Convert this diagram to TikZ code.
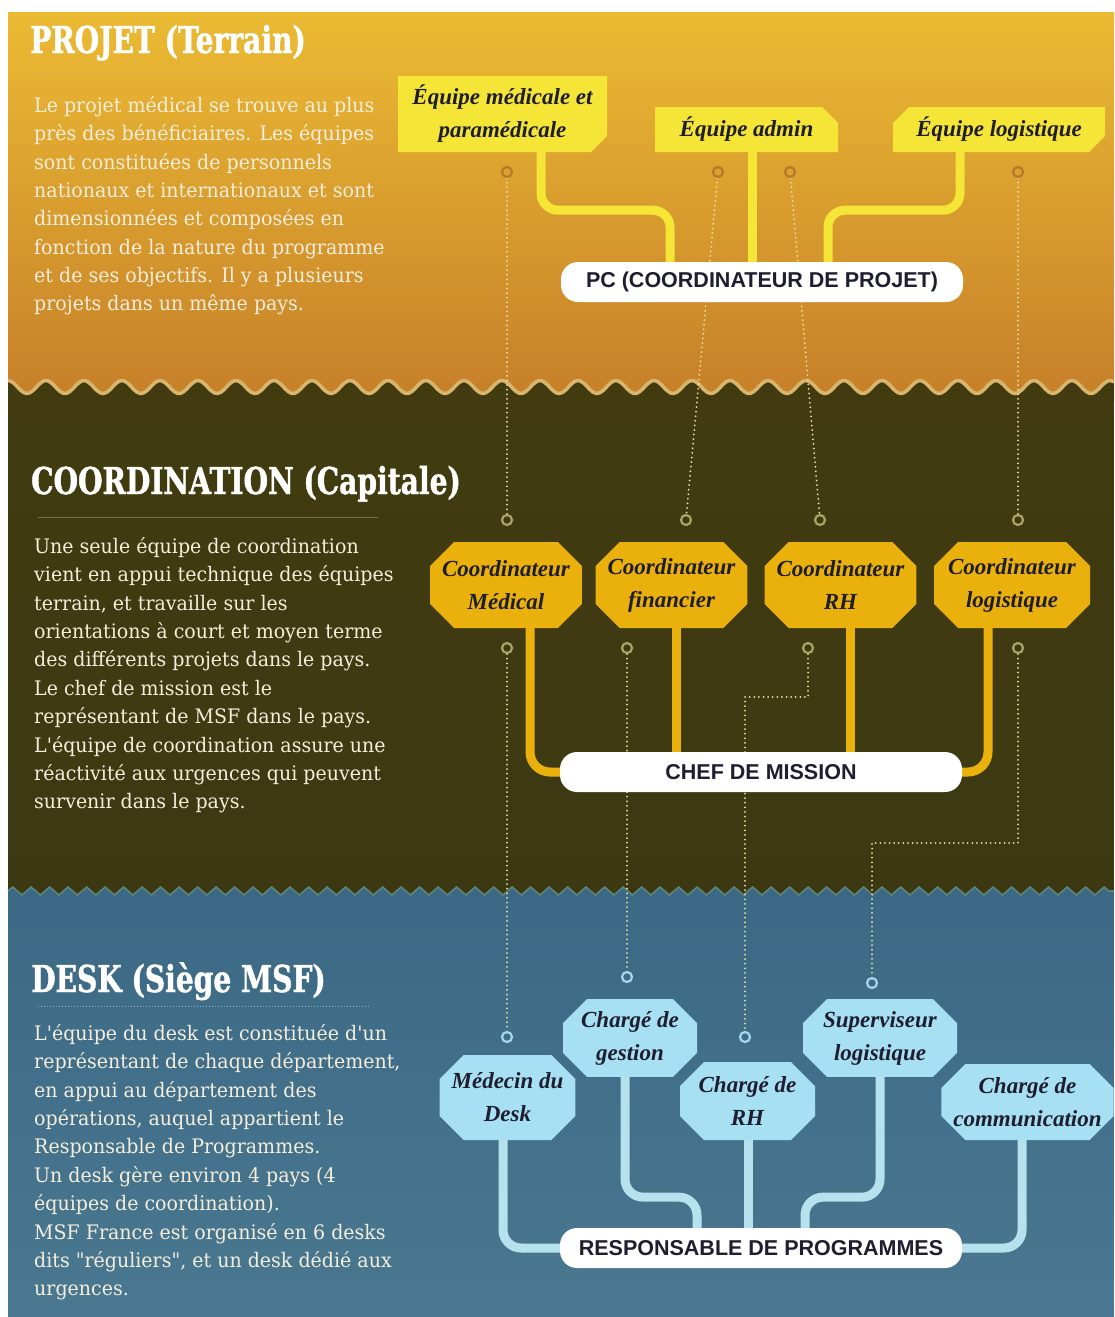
\documentclass[tikz,border=0pt]{standalone}
\usepackage{fontspec}
\usetikzlibrary{shapes.misc,decorations.pathmorphing}
\newfontfamily\hdfont[FakeStretch=0.76,FakeBold=1.2]{DejaVu Serif}
\newfontfamily\bdfont[FakeStretch=0.95]{DejaVu Serif}
\newfontfamily\lbfont{Liberation Serif}
\newfontfamily\bxfont{Liberation Sans}
\definecolor{topA}{HTML}{EBBB33}
\definecolor{topM}{HTML}{E3A42B}
\definecolor{topB}{HTML}{C67F29}
\definecolor{olA}{HTML}{423B10}
\definecolor{olB}{HTML}{3C3912}
\definecolor{blA}{HTML}{3B6884}
\definecolor{blB}{HTML}{4A7890}
\definecolor{wavec}{HTML}{D9B66E}
\definecolor{zzc}{HTML}{5E8479}
\definecolor{ycol}{HTML}{F4E536}
\definecolor{gcol}{HTML}{EAB10C}
\definecolor{bcol}{HTML}{A6E0F2}
\definecolor{bconc}{HTML}{B6E2EE}
\definecolor{boxtext}{HTML}{1F1D30}
\definecolor{bodytext}{HTML}{F5EEDC}
\definecolor{dotc}{HTML}{EFE2A6}
\definecolor{ringT}{HTML}{B5782C}
\definecolor{ringM}{HTML}{A9A565}
\definecolor{ringD}{HTML}{A6D7EA}
\pgfdeclarelayer{back}
\pgfdeclarelayer{mid}
\pgfsetlayers{back,mid,main}
\begin{document}
\begin{tikzpicture}[x=1pt,y=-1pt,
  heading/.style={anchor=base west, text=white, inner sep=0pt, font=\hdfont\bfseries\fontsize{37}{40}\selectfont},
  body/.style={anchor=north west, text=bodytext, inner sep=0pt, align=left, font=\bdfont\fontsize{20}{28.4}\selectfont},
  lab/.style={inner sep=0pt, align=center, text=boxtext, font=\lbfont\bfseries\itshape\fontsize{23}{33}\selectfont},
  tagbox/.style={lab, chamfered rectangle, chamfered rectangle xsep=8pt, chamfered rectangle ysep=8pt, fill=ycol},
  coordbox/.style={lab, chamfered rectangle, chamfered rectangle xsep=12pt, chamfered rectangle ysep=12pt, fill=gcol, minimum height=86pt},
  deskbox/.style={lab, chamfered rectangle, chamfered rectangle xsep=12pt, chamfered rectangle ysep=12pt, fill=bcol},
  pill/.style={fill=white, rounded corners=17pt, minimum width=402pt, minimum height=40pt, inner sep=0pt, text=boxtext, font=\bxfont\bfseries\fontsize{21.5}{23}\selectfont},
  ring/.style={circle, draw=#1, line width=2.2pt, minimum size=10pt, inner sep=0pt},
  dotline/.style={draw=dotc, line width=2pt, line cap=round, dash pattern=on 0pt off 4.6pt},
  ycon/.style={draw=ycol, line width=9pt, rounded corners=17pt},
  gcon/.style={draw=gcol, line width=9pt, rounded corners=20pt},
  bcon/.style={draw=bconc, line width=9pt, rounded corners=18pt}
]
\useasboundingbox (0,0) rectangle (1114,1317);
\begin{pgfonlayer}{back}
\fill[white] (0,0) rectangle (1114,1317);
\shade[top color=topA, middle color=topM, bottom color=topB] (8,12) rectangle (1114,400);
\shade[top color=olA, bottom color=olB] plot[domain=8:1114, samples=360] (\x,{387-6.5*cos(9.47368*(\x-8))}) -- (1114,900) -- (8,900) -- cycle;
\draw[wavec, line width=3.5pt] plot[domain=8:1114, samples=360] (\x,{387-6.5*cos(9.47368*(\x-8))});
\shade[top color=blA, bottom color=blB] (8,1317) -- (8,891) decorate[decoration={zigzag, segment length=18.5pt, amplitude=4pt}]{-- (1114,891)} -- (1114,1317) -- cycle;
\draw[zzc, line width=1.6pt] (8,891) decorate[decoration={zigzag, segment length=18.5pt, amplitude=4pt}]{-- (1114,891)};
\end{pgfonlayer}

% headings and rules
\node[heading] (h1) at (30,53) {PROJET (Terrain)};
\node[heading] (h2) at (31,494) {COORDINATION (Capitale)};
\node[heading] (h3) at (31,992) {DESK (Siège MSF)};
\draw[draw=wavec!70!topA, line width=0.8pt] (38,75) -- (380,75);
\draw[draw=olA!75!white, line width=0.8pt] (38,517) -- (378,517);
\draw[draw=blA!50!white, line width=1pt, dash pattern=on 1pt off 2pt] (38,1006) -- (370,1006);

% body texts
\node[body] (t1) at (34,96) {Le projet médical se trouve au plus\\près des bénéficiaires. Les équipes\\sont constituées de personnels\\nationaux et internationaux et sont\\dimensionnées et composées en\\fonction de la nature du programme\\et de ses objectifs. Il y a plusieurs\\projets dans un même pays.};
\node[body] (t2) at (34,537) {Une seule équipe de coordination\\vient en appui technique des équipes\\terrain, et travaille sur les\\orientations à court et moyen terme\\des différents projets dans le pays.\\Le chef de mission est le\\représentant de MSF dans le pays.\\L'équipe de coordination assure une\\réactivité aux urgences qui peuvent\\survenir dans le pays.};
\node[body] (t3) at (34,1024) {L'équipe du desk est constituée d'un\\représentant de chaque département,\\en appui au département des\\opérations, auquel appartient le\\Responsable de Programmes.\\Un desk gère environ 4 pays (4\\équipes de coordination).\\MSF France est organisé en 6 desks\\dits "réguliers", et un desk dédié aux\\urgences.};

% rings
\node[ring=ringT] (ta) at (507,172) {};
\node[ring=ringT] (tb) at (718,172) {};
\node[ring=ringT] (tc) at (790,172) {};
\node[ring=ringT] (td) at (1018,172) {};
\node[ring=ringM] (ma) at (507,520) {};
\node[ring=ringM] (mb) at (686,520) {};
\node[ring=ringM] (mc) at (820,520) {};
\node[ring=ringM] (md) at (1018,520) {};
\node[ring=ringM] (na) at (507,648) {};
\node[ring=ringM] (nb) at (627,648) {};
\node[ring=ringM] (nc) at (808,648) {};
\node[ring=ringM] (nd) at (1018,648) {};
\node[ring=ringD] (da) at (507,1037) {};
\node[ring=ringD] (db) at (627,977) {};
\node[ring=ringD] (dc) at (745,1037) {};
\node[ring=ringD] (dd) at (872,983) {};

% dotted links
\begin{pgfonlayer}{mid}
\draw[dotline] (ta) -- (ma);
\draw[dotline] (tb) -- (mb);
\draw[dotline] (tc) -- (mc);
\draw[dotline] (td) -- (md);
\draw[dotline] (na) -- (da);
\draw[dotline] (nb) -- (db);
\draw[dotline] (nc) -- (808,697) -- (745,697) -- (dc);
\draw[dotline] (nd) -- (1018,843) -- (872,843) -- (dd);
\end{pgfonlayer}

% nodes: projet
\node[tagbox, chamfered rectangle corners={south east}, minimum width=209pt, minimum height=76pt] (med) at (502.5,114) {Équipe médicale et\\paramédicale};
\node[tagbox, chamfered rectangle corners={north east}, minimum width=183pt, minimum height=45pt] (adm) at (746.5,129.5) {Équipe admin};
\node[tagbox, chamfered rectangle corners={north west,south east}, minimum width=212pt, minimum height=45pt] (logi) at (999,129.5) {Équipe logistique};
\node[pill] (pc) at (762,282) {PC (COORDINATEUR DE PROJET)};

% nodes: coordination
\node[coordbox, minimum width=148pt] (cmed) at (506,585) {Coordinateur\\Médical};
\node[coordbox, minimum width=147pt] (cfin) at (671.5,585) {Coordinateur\\financier};
\node[coordbox, minimum width=149pt] (crh) at (840.5,585) {Coordinateur\\RH};
\node[coordbox, minimum width=156pt] (clog) at (1012,585) {Coordinateur\\logistique};
\node[pill] (chef) at (761,772) {CHEF DE MISSION};

% nodes: desk
\node[deskbox, minimum width=135pt, minimum height=85pt] (dmed) at (507.5,1097.5) {Médecin du\\Desk};
\node[deskbox, minimum width=134pt, minimum height=76pt] (dges) at (630,1038) {Chargé de\\gestion};
\node[deskbox, minimum width=135pt, minimum height=78pt] (drh) at (747.5,1101) {Chargé de\\RH};
\node[deskbox, minimum width=154pt, minimum height=76pt] (dsup) at (880,1038) {Superviseur\\logistique};
\node[deskbox, minimum width=165pt, minimum height=76pt] (dcom) at (1027.5,1102) {Chargé de\\communication};
\node[pill] (resp) at (761,1248) {RESPONSABLE DE PROGRAMMES};

% connectors
\begin{pgfonlayer}{mid}
\draw[ycon] ([xshift=38.5pt]med.south) -- ++(0,58) -- ++(129,0) -- ([xshift=-92pt]pc.north);
\draw[ycon] ([xshift=5.5pt]adm.south) -- ([xshift=-10pt]pc.north);
\draw[ycon] ([xshift=-39pt]logi.south) -- ++(0,58) -- ++(-132,0) -- ([xshift=66pt]pc.north);

\draw[gcon] ([xshift=24pt]cmed.south) |- (chef.west);
\draw[gcon] ([xshift=4.5pt]cfin.south) -- ([xshift=-85pt]chef.north);
\draw[gcon] ([xshift=9.5pt]crh.south) -- ([xshift=89pt]chef.north);
\draw[gcon] ([xshift=-24pt]clog.south) |- (chef.east);

\draw[bcon] ([xshift=-4.5pt]dmed.south) |- (resp.west);
\draw[bcon] ([xshift=-5pt]dges.south) -- ++(0,120) -- ++(72,0) -- ([xshift=-64pt]resp.north);
\draw[bcon] ([xshift=0.5pt]drh.south) -- ([xshift=-13pt]resp.north);
\draw[bcon] (dsup.south) -- ++(0,120) -- ++(-75,0) -- ([xshift=44pt]resp.north);
\draw[bcon] ([xshift=-5.5pt]dcom.south) |- (resp.east);
\end{pgfonlayer}
\end{tikzpicture}
\end{document}
